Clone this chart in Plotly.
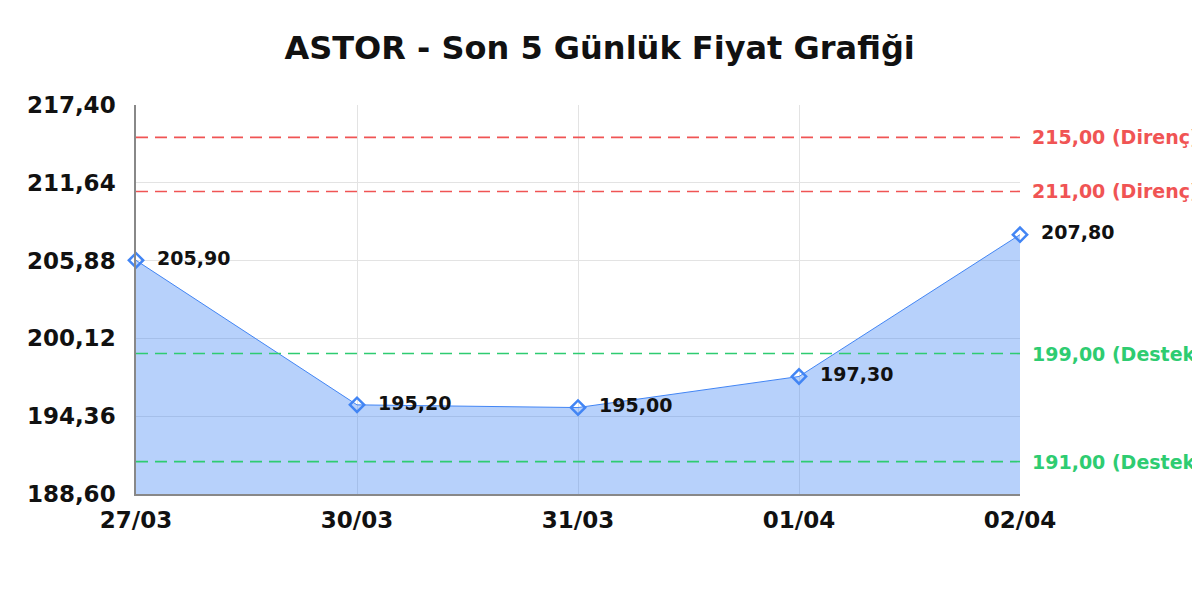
import plotly.graph_objects as go

# son 5 gunluk kapanis fiyatlari
dates = ["27/03", "30/03", "31/03", "01/04", "02/04"]
prices = [205.90, 195.20, 195.00, 197.30, 207.80]

# direnc / destek seviyeleri
resistance = [215.00, 211.00]
support = [199.00, 191.00]

y_ticks = [188.60, 194.36, 200.12, 205.88, 211.64, 217.40]


def tr(v):
    return f"{v:.2f}".replace(".", ",")


x = list(range(len(dates)))
font = "DejaVu Sans"

fig = go.Figure()

# alt dolgu icin taban cizgisi
fig.add_trace(go.Scatter(
    x=x, y=[y_ticks[0]] * len(x), mode="lines",
    line=dict(width=0), hoverinfo="skip", showlegend=False))

fig.add_trace(go.Scatter(
    x=x, y=prices, mode="lines+markers+text",
    fill="tonexty", fillcolor="rgba(66,133,244,0.38)",
    line=dict(color="#4285f4", width=1),
    marker=dict(symbol="diamond-open", size=11, color="#4285f4",
                line=dict(width=2.5, color="#4285f4")),
    text=["  " + tr(p) for p in prices], textposition="middle right",
    textfont=dict(family=font, size=19, color="#111111", weight="bold"),
    cliponaxis=False, showlegend=False))

for lvl in resistance:
    fig.add_hline(y=lvl, line=dict(color="#f05454", width=1.6, dash="12px,7px"), layer="above")
    fig.add_annotation(x=1, xref="paper", y=lvl, yref="y", xanchor="left",
                       xshift=10, showarrow=False, text=f"{tr(lvl)} (Direnç)",
                       font=dict(family=font, size=19, color="#f05454", weight="bold"))

for lvl in support:
    fig.add_hline(y=lvl, line=dict(color="#2ecc71", width=1.6, dash="12px,7px"), layer="above")
    fig.add_annotation(x=1, xref="paper", y=lvl, yref="y", xanchor="left",
                       xshift=10, showarrow=False, text=f"{tr(lvl)} (Destek)",
                       font=dict(family=font, size=19, color="#2ecc71", weight="bold"))

fig.update_layout(
    title=dict(text="ASTOR - Son 5 Günlük Fiyat Grafiği", x=0.493, xanchor="center",
               y=0.933, yanchor="middle",
               font=dict(family=font, size=32, color="#111111", weight="bold")),
    width=1200, height=600,
    margin=dict(l=128, r=188, t=97, b=114),
    plot_bgcolor="white", paper_bgcolor="white",
    xaxis=dict(tickvals=x, ticktext=dates, range=[0, len(x) - 1],
               showgrid=True, gridcolor="#e3e3e3", gridwidth=1,
               showline=True, linecolor="#888888", linewidth=1.5,
               ticks="", zeroline=False, ticklabelstandoff=5,
               tickfont=dict(family=font, size=23, color="#111111", weight="bold")),
    yaxis=dict(tickvals=y_ticks, ticktext=[tr(v) for v in y_ticks],
               range=[y_ticks[0], y_ticks[-1]],
               showgrid=True, gridcolor="#e3e3e3", gridwidth=1,
               showline=True, linecolor="#888888", linewidth=1.5,
               ticks="", zeroline=False, ticklabelstandoff=14,
               tickfont=dict(family=font, size=23, color="#111111", weight="bold")),
)

fig.write_html("out.html")
